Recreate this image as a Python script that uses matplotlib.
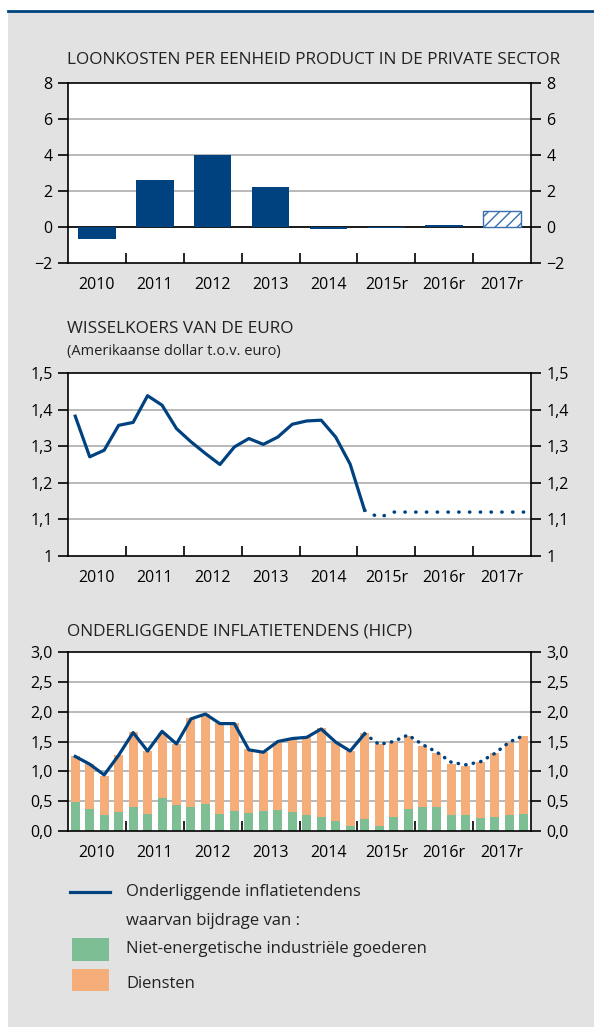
import matplotlib
matplotlib.use("Agg")
import matplotlib.pyplot as plt
from matplotlib.lines import Line2D
from matplotlib.patches import Rectangle
import numpy as np

plt.rcParams["font.family"] = ["Open Sans", "DejaVu Sans"]
plt.rcParams["text.color"] = "#222222"
plt.rcParams["hatch.linewidth"] = 1.0

# --- data -------------------------------------------------------------
years = ["2010", "2011", "2012", "2013", "2014", "2015r", "2016r", "2017r"]

# unit labour costs, private sector (% change)
ulc = [-0.65, 2.6, 4.0, 2.2, -0.12, -0.03, 0.12, 0.9]
ulc_hatched = [False, False, False, False, False, False, False, True]

# EUR/USD, quarterly 2010Q1 - 2017Q4
eurusd = [1.382, 1.271, 1.289, 1.357, 1.365, 1.438, 1.412, 1.348,
          1.312, 1.280, 1.250, 1.298, 1.321, 1.305, 1.325, 1.360,
          1.369, 1.371, 1.325, 1.251, 1.125, 1.105, 1.120, 1.120,
          1.120, 1.120, 1.120, 1.120, 1.120, 1.120, 1.120, 1.120]
eurusd_last_obs = 20

# core inflation (HICP), quarterly 2010Q1 - 2017Q4
goods = [0.48, 0.37, 0.26, 0.32, 0.40, 0.29, 0.55, 0.44,
         0.40, 0.45, 0.29, 0.34, 0.30, 0.34, 0.35, 0.32,
         0.27, 0.24, 0.16, 0.09, 0.20, 0.09, 0.24, 0.37,
         0.40, 0.40, 0.26, 0.26, 0.22, 0.24, 0.26, 0.29]
services = [0.78, 0.75, 0.67, 0.96, 1.26, 1.05, 1.10, 1.01,
            1.49, 1.51, 1.52, 1.47, 1.07, 0.99, 1.14, 1.24,
            1.31, 1.48, 1.34, 1.25, 1.44, 1.37, 1.26, 1.22,
            1.03, 0.91, 0.86, 0.83, 0.94, 1.07, 1.22, 1.30]
core = [1.25, 1.12, 0.94, 1.27, 1.65, 1.34, 1.67, 1.46,
        1.88, 1.96, 1.80, 1.80, 1.36, 1.32, 1.50, 1.55,
        1.57, 1.71, 1.49, 1.34, 1.63, 1.45, 1.50, 1.61,
        1.45, 1.32, 1.15, 1.11, 1.16, 1.30, 1.49, 1.60]
core_last_obs = 20

BLUE = "#00427f"
GREEN = "#7dbe95"
ORANGE = "#f5ad7a"
GRID = "#b3b3b3"
BG = "#e2e2e2"
TICK_FS = 11.5

W, H = 594, 1027
fig = plt.figure(figsize=(W / 100, H / 100), dpi=100)
fig.patch.set_facecolor("white")

# grey panel and blue rule on top
fig.patches.append(Rectangle((8 / W, 0), 1, 1 - 11 / H, transform=fig.transFigure,
                             facecolor=BG, edgecolor="none", zorder=-10))
fig.lines.append(Line2D([8 / W, 1], [1 - 11 / H, 1 - 11 / H], transform=fig.transFigure,
                        color=BLUE, lw=2))


def make_axes(top, bottom, ylim, yticks, ylabels):
    left, right = 68, 531
    ax = fig.add_axes([left / W, 1 - bottom / H, (right - left) / W, (bottom - top) / H])
    ax.set_facecolor("white")
    ax.set_xlim(0, len(years))
    ax.set_ylim(*ylim)
    ax.set_yticks(yticks)
    ax.set_yticklabels(ylabels)
    ax.yaxis.set_ticks_position("both")
    ax.tick_params(axis="y", direction="out", length=7, width=1.2, pad=4,
                   labelleft=True, labelright=True, labelsize=TICK_FS)
    ax.set_xticks(np.arange(1, len(years)))
    ax.set_xticklabels([])
    ax.tick_params(axis="x", which="major", direction="in", length=7, width=1.2)
    ax.set_xticks(np.arange(len(years)) + 0.5, minor=True)
    ax.set_xticklabels(years, minor=True)
    ax.tick_params(axis="x", which="minor", length=0, pad=10, labelsize=TICK_FS)
    for s in ax.spines.values():
        s.set_linewidth(1.2)
    for y in yticks[1:-1]:
        ax.axhline(y, color=GRID, lw=1.3, zorder=0)
    return ax


# --- panel 1 ----------------------------------------------------------
fig.text(67 / W, 1 - 60 / H, "LOONKOSTEN PER EENHEID PRODUCT IN DE PRIVATE SECTOR",
         fontsize=12.4, va="center", ha="left")
ax1 = make_axes(83, 263, (-2, 8), [-2, 0, 2, 4, 6, 8],
                ["\u22122", "0", "2", "4", "6", "8"])
xpos = np.arange(len(years)) + 0.5
ax1.axhline(0, color="black", lw=1.2, zorder=1)
for x, v, h in zip(xpos, ulc, ulc_hatched):
    if h:
        ax1.bar(x, v, width=0.65, facecolor="white", edgecolor="#3a6fb0",
                hatch="///", lw=1, zorder=2)
    else:
        ax1.bar(x, v, width=0.65, color=BLUE, zorder=2)

# --- panel 2 ----------------------------------------------------------
fig.text(67 / W, 1 - 329 / H, "WISSELKOERS VAN DE EURO", fontsize=12.4, va="center")
fig.text(67 / W, 1 - 351 / H, "(Amerikaanse dollar t.o.v. euro)", fontsize=10.5, va="center")
ax2 = make_axes(373, 556, (1, 1.5), [1, 1.1, 1.2, 1.3, 1.4, 1.5],
                ["1", "1,1", "1,2", "1,3", "1,4", "1,5"])
qpos = (np.arange(len(eurusd)) + 0.5) / 4
k = eurusd_last_obs
ax2.plot(qpos[:k + 1], eurusd[:k + 1], color=BLUE, lw=2.3, zorder=3)
ax2.plot(qpos[k:], eurusd[k:], color=BLUE, lw=2.5, zorder=3,
         linestyle=(0, (0.1, 3.0)), dash_capstyle="round")

# --- panel 3 ----------------------------------------------------------
fig.text(67 / W, 1 - 632 / H, "ONDERLIGGENDE INFLATIETENDENS (HICP)", fontsize=12.4, va="center")
ax3 = make_axes(652, 831, (0, 3), [0, 0.5, 1, 1.5, 2, 2.5, 3],
                ["0,0", "0,5", "1,0", "1,5", "2,0", "2,5", "3,0"])
qpos = (np.arange(len(core)) + 0.5) / 4
ax3.bar(qpos, goods, width=0.155, color=GREEN, zorder=2)
ax3.bar(qpos, services, width=0.155, bottom=goods, color=ORANGE, zorder=2)
k = core_last_obs
ax3.plot(qpos[:k + 1], core[:k + 1], color=BLUE, lw=2.3, zorder=3)
ax3.plot(qpos[k:], core[k:], color=BLUE, lw=2.5, zorder=3,
         linestyle=(0, (0.1, 2.1)), dash_capstyle="round")

# --- legend -----------------------------------------------------------
fig.lines.append(Line2D([70 / W, 110 / W], [1 - 892 / H] * 2, transform=fig.transFigure,
                        color=BLUE, lw=2.3))
fig.text(126 / W, 1 - 892 / H, "Onderliggende inflatietendens", fontsize=12, va="center")
fig.text(126 / W, 1 - 921 / H, "waarvan bijdrage van :", fontsize=12, va="center")
fig.patches.append(Rectangle((72 / W, 1 - 961 / H), 37 / W, 23 / H, transform=fig.transFigure,
                             facecolor=GREEN, edgecolor="none"))
fig.text(126 / W, 1 - 949 / H, "Niet-energetische industriële goederen", fontsize=12, va="center")
fig.patches.append(Rectangle((72 / W, 1 - 991 / H), 37 / W, 22 / H, transform=fig.transFigure,
                             facecolor=ORANGE, edgecolor="none"))
fig.text(126 / W, 1 - 984 / H, "Diensten", fontsize=12, va="center")

fig.savefig("out.png", dpi=100)
